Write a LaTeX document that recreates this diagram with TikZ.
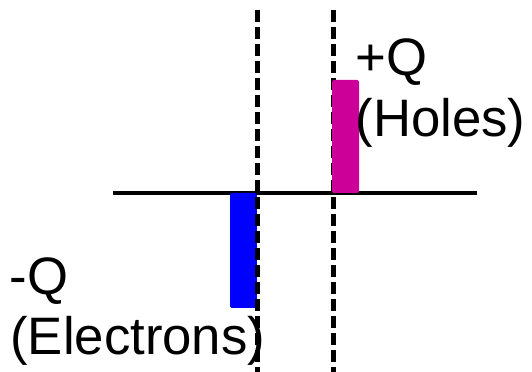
\documentclass[tikz,border=0pt]{standalone}
\usepackage{fontspec}
\setmainfont{Liberation Sans}
\usetikzlibrary{positioning,calc}
\definecolor{holecol}{RGB}{204,0,153}
\definecolor{eleccol}{RGB}{0,0,255}

\begin{document}
\begin{tikzpicture}[line width=2.2pt,
  guide/.style={line width=3pt,dash pattern=on 8.5pt off 3.6pt},
  bar/.style={rounded corners=1.2pt,draw=none},
  lbl/.style={anchor=base west,inner sep=0pt,font=\fontsize{37.5}{45}\selectfont}]
\useasboundingbox (0,0) rectangle (13.3,9.3);
% axis and depletion edges
\coordinate (axl) at (2.825,4.475);
\coordinate (axr) at (11.925,4.475);
\coordinate (n1) at (6.44,9.05);
\coordinate (n2) at (6.44,0);
\coordinate (p1) at (8.34,9.05);
\coordinate (p2) at (8.34,0);
\draw (axl) -- (axr);
% charge blocks
\fill[bar,eleccol] (5.75,4.475) rectangle (6.42,1.6);
\draw[guide] (n1) -- (n2);
\draw[guide] (p1) -- (p2);
\fill[bar,holecol] (8.3,4.475) rectangle (8.975,7.3);
% labels
\node[lbl] (pq) at (8.85,7.4) {+Q};
\node[lbl] (ph) at (8.85,5.875) {(Holes)};
\node[lbl] (nq) at (0.2,1.925) {-Q};
\node[lbl] (ne) at (0.22,0.425) {(Electrons)};
\end{tikzpicture}
\end{document}
